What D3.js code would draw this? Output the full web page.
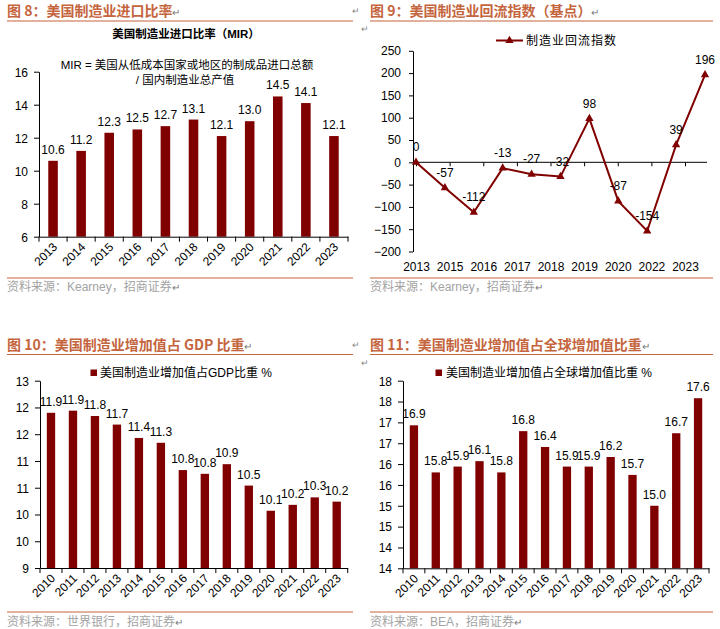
<!DOCTYPE html>
<html><head><meta charset="utf-8">
<script src="https://cdn.jsdelivr.net/npm/d3@7"></script>
<style>
body{margin:0;background:#fff}
svg text{font-family:"Liberation Sans",Arial,"Noto Sans CJK SC",sans-serif;fill:#000}
.title{font-family:"Noto Sans CJK SC","Liberation Sans",sans-serif;font-weight:bold;font-size:14px}
.src{font-size:12px}
.axis text{font-size:12px}
.lbl{font-size:12px}
</style>
</head><body><svg id="c" width="720" height="629"></svg>
<script>
// ---------- data ----------
const mirYears = ["2013","2014","2015","2016","2017","2018","2019","2020","2021","2022","2023"];
const mirValues = [10.6, 11.2, 12.3, 12.5, 12.7, 13.1, 12.1, 13.0, 14.5, 14.1, 12.1];
const mirTicks = [6, 8, 10, 12, 14, 16];

const reshoringValues = [0, -57, -112, -13, -27, -32, 98, -87, -154, 39, 196];
const reshoringAxisLabels = ["2013","2015","2016","2017","2018","2019","2020","2022","2023"];
const reshoringTicks = [-200, -150, -100, -50, 0, 50, 100, 150, 200, 250];

const shareYears = ["2010","2011","2012","2013","2014","2015","2016","2017","2018","2019","2020","2021","2022","2023"];
const gdpShareValues = [11.90, 11.94, 11.84, 11.68, 11.43, 11.34, 10.83, 10.76, 10.94, 10.54, 10.07, 10.18, 10.32, 10.24];
const gdpTicks = [9, 9.5, 10, 10.5, 11, 11.5, 12, 12.5];
const globalShareValues = [16.93, 15.80, 15.94, 16.07, 15.80, 16.79, 16.41, 15.94, 15.94, 16.17, 15.74, 15.00, 16.74, 17.58];
const globalTicks = [13.5, 14, 14.5, 15, 15.5, 16, 16.5, 17, 17.5, 18];

// ---------- style ----------
const RED = "#800000", TITLE = "#c5653e", GRAY = "#a3a3a3";
const svg = d3.select("#c");

function header(x0, x1, title, yText, yLine) {
  const t = svg.append("text").attr("class", "title").attr("x", x0).attr("y", yText)
    .attr("fill", TITLE).style("fill", TITLE).text(title);
  t.append("tspan").style("font-size", "10px").style("font-weight", "normal").style("fill", "#777").text("↵");
  svg.append("line").attr("x1", x0).attr("x2", x1).attr("y1", yLine).attr("y2", yLine)
    .attr("stroke", TITLE).attr("stroke-width", 1.2);
}
function source(x0, x1, txt, yLine, yText) {
  svg.append("line").attr("x1", x0).attr("x2", x1).attr("y1", yLine).attr("y2", yLine)
    .attr("stroke", TITLE).attr("stroke-width", 1);
  const t = svg.append("text").attr("class", "src").attr("x", x0).attr("y", yText).style("fill", GRAY).text(txt);
  t.append("tspan").style("font-size", "10px").style("fill", "#777").text("↵");
}
function mark(x, y) {
  svg.append("text").attr("x", x).attr("y", y).style("font-size", "9px").style("fill", "#888").text("↵");
}

function barPanel(cfg) {
  const g = svg.append("g");
  const x = d3.scaleBand().domain(cfg.cats).range([cfg.left, cfg.right])
    .paddingInner(cfg.pad).paddingOuter(cfg.pad / 2);
  const y0 = cfg.ticks[0], y1 = cfg.ticks[cfg.ticks.length - 1];
  const y = d3.scaleLinear().domain([y0, y1]).range([cfg.bottom, cfg.top]);

  g.selectAll("rect.bar").data(cfg.values).join("rect").attr("class", "bar")
    .attr("x", (d, i) => x(cfg.cats[i])).attr("y", d => y(d))
    .attr("width", x.bandwidth()).attr("height", d => y(y0) - y(d)).attr("fill", RED);

  g.selectAll("text.lbl").data(cfg.values).join("text").attr("class", "lbl")
    .attr("x", (d, i) => x(cfg.cats[i]) + x.bandwidth() / 2).attr("y", d => y(d) - 7)
    .attr("text-anchor", "middle").text(d => d3.format(".1f")(d));

  const ya = g.append("g").attr("class", "axis").attr("transform", `translate(${cfg.left},0)`)
    .call(d3.axisLeft(y).tickValues(cfg.ticks).tickFormat(d3.format(".0f")).tickSize(5).tickPadding(6).tickSizeOuter(0));
  ya.selectAll("text").attr("dy", "0.36em");

  const xa = g.append("g").attr("class", "axis").attr("transform", `translate(0,${cfg.bottom})`)
    .call(d3.axisBottom(x).tickSize(0).tickPadding(0).tickSizeOuter(0));
  xa.selectAll("text").attr("y", 0).attr("dy", 0).attr("text-anchor", "end")
    .attr("transform", "translate(5,11) rotate(-45)");
  // boundary ticks between categories
  const bounds = d3.range(cfg.cats.length + 1).map(i => cfg.left + i * x.step());
  g.selectAll("line.bt").data(bounds).join("line").attr("class", "bt")
    .attr("x1", d => d).attr("x2", d => d).attr("y1", cfg.bottom).attr("y2", cfg.bottom + 5)
    .attr("stroke", "#000");
  g.selectAll(".axis path, .axis line").attr("stroke", "#000");
  return {x, y};
}

// ---------- Panel 1: MIR ----------
header(7, 353, "图 8：美国制造业进口比率", 16, 21);
mark(352, 14);
svg.append("text").attr("x", 186).attr("y", 38).attr("text-anchor", "middle")
  .style("font-size", "11.5px").style("font-weight", "bold").text("美国制造业进口比率（MIR）");
svg.append("text").attr("x", 187).attr("y", 69).attr("text-anchor", "middle")
  .style("font-size", "11.5px").text("MIR = 美国从低成本国家或地区的制成品进口总额");
svg.append("text").attr("x", 185).attr("y", 84).attr("text-anchor", "middle")
  .style("font-size", "11.5px").text("/ 国内制造业总产值");
barPanel({cats: mirYears, values: mirValues, ticks: mirTicks,
  left: 39, right: 348, top: 71.7, bottom: 236.7, pad: 0.66});
source(7, 353, "资料来源：Kearney，招商证券", 278, 291);

// ---------- Panel 2: reshoring index ----------
header(370, 713, "图 9：美国制造业回流指数（基点）", 16, 21);
mark(361, 32);
{
  const g = svg.append("g");
  const xp = d3.scalePoint().domain(d3.range(reshoringValues.length)).range([416, 705]);
  const xl = d3.scalePoint().domain(reshoringAxisLabels).range([416, 685]);
  const y = d3.scaleLinear().domain([-200, 250]).range([251.5, 50.8]);

  const ya = g.append("g").attr("class", "axis").attr("transform", "translate(413,0)")
    .call(d3.axisLeft(y).tickValues(reshoringTicks).tickSize(4).tickPadding(8).tickSizeOuter(0));
  // zero line with ticks
  g.append("line").attr("x1", 413).attr("x2", 707).attr("y1", y(0)).attr("y2", y(0)).attr("stroke", "#000");
  const xt = g.append("g").attr("class", "axis").attr("transform", `translate(0,${y(0)})`)
    .call(d3.axisBottom(xl).tickSize(4).tickFormat("").tickSizeOuter(0));
  xt.select(".domain").remove();
  const xlab = g.append("g").attr("class", "axis").attr("transform", "translate(0,262)")
    .call(d3.axisBottom(xl).tickSize(0).tickPadding(0));
  xlab.select(".domain").remove();
  g.selectAll(".axis path, .axis line").attr("stroke", "#000");

  const line = d3.line().x((d, i) => xp(i)).y(d => y(d));
  g.append("path").datum(reshoringValues).attr("d", line).attr("fill", "none")
    .attr("stroke", RED).attr("stroke-width", 2);
  g.selectAll("path.m").data(reshoringValues).join("path").attr("class", "m")
    .attr("transform", (d, i) => `translate(${xp(i)},${y(d)})`)
    .attr("d", d3.symbol(d3.symbolTriangle, 30)).attr("fill", RED);
  g.selectAll("text.lbl").data(reshoringValues).join("text").attr("class", "lbl")
    .attr("x", (d, i) => xp(i)).attr("y", d => y(d) - 11).attr("text-anchor", "middle").text(d => d);

  // legend
  g.append("line").attr("x1", 496).attr("x2", 523).attr("y1", 40.5).attr("y2", 40.5)
    .attr("stroke", RED).attr("stroke-width", 2);
  g.append("path").attr("transform", "translate(509.5,40.5)")
    .attr("d", d3.symbol(d3.symbolTriangle, 30)).attr("fill", RED);
  g.append("text").attr("x", 526).attr("y", 45).style("font-size", "12px")
    .style("letter-spacing", "1px").text("制造业回流指数");
}
source(370, 713, "资料来源：Kearney，招商证券", 278, 291);

// ---------- Panel 3: manufacturing value added share of GDP ----------
header(7, 353, "图 10：美国制造业增加值占 GDP 比重", 350, 354.5);
mark(352, 348);
svg.append("rect").attr("x", 90.5).attr("y", 369.5).attr("width", 6.5).attr("height", 6.5).attr("fill", RED);
svg.append("text").attr("x", 100).attr("y", 377).style("font-size", "12px").text("美国制造业增加值占GDP比重 %");
barPanel({cats: shareYears, values: gdpShareValues, ticks: gdpTicks,
  left: 40, right: 347.7, top: 380.7, bottom: 568, pad: 0.62});
source(7, 353, "资料来源：世界银行，招商证券", 612, 626);

// ---------- Panel 4: share of global manufacturing value added ----------
header(370, 713, "图 11：美国制造业增加值占全球增加值比重", 350, 354.5);
mark(361, 366);
svg.append("rect").attr("x", 435.5).attr("y", 369.5).attr("width", 6.5).attr("height", 6.5).attr("fill", RED);
svg.append("text").attr("x", 446).attr("y", 377).style("font-size", "12px").text("美国制造业增加值占全球增加值比重 %");
barPanel({cats: shareYears, values: globalShareValues, ticks: globalTicks,
  left: 403, right: 709, top: 380.7, bottom: 568.3, pad: 0.62});
source(370, 713, "资料来源：BEA，招商证券", 612, 626);
</script></body></html>
